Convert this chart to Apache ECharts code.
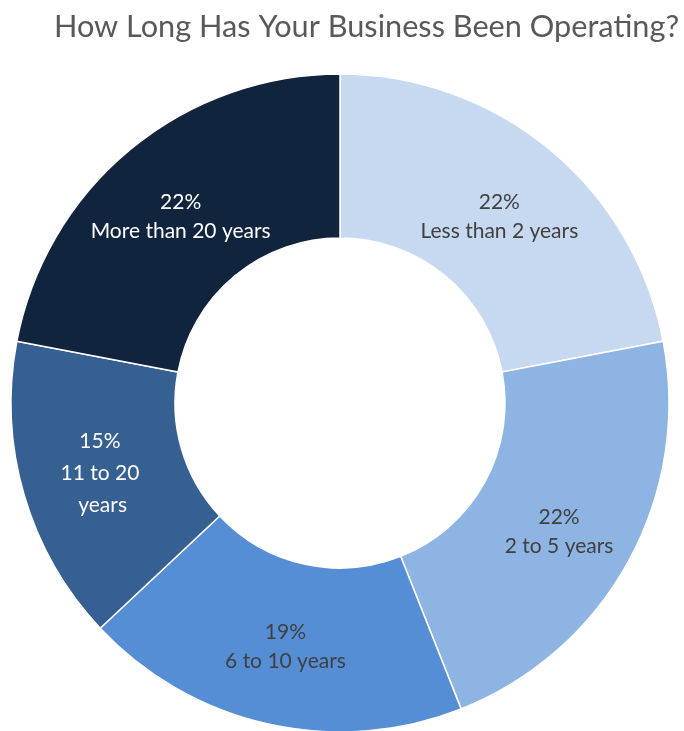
<!DOCTYPE html>
<html>
<head>
<meta charset="utf-8">
<script src="https://cdn.jsdelivr.net/npm/echarts@6/dist/echarts.min.js"></script>
<style>
  html, body { margin: 0; padding: 0; background: #ffffff; }
  #chart { width: 684px; height: 731px; }
</style>
</head>
<body>
<div id="chart"></div>
<script>
// Survey responses: how long the business has been operating
const categories = ['Less than 2 years', '2 to 5 years', '6 to 10 years', '11 to 20 years', 'More than 20 years'];
const shares = [22, 22, 19, 15, 22];

// Styling per slice
const sliceColors = ['#C6D9F1', '#8EB4E3', '#558ED5', '#376092', '#10243E'];
const labelColors = ['#404040', '#404040', '#404040', '#ffffff', '#ffffff'];
const labelStyle = [
  { offset: [0, 6] },
  { offset: [0, 8] },
  { offset: [0, 0] },
  { offset: [0, 0], width: 84, overflow: 'break', lineHeight: 32 },
  { offset: [0, 6] }
];

const FONT = 'Lato, "Open Sans", sans-serif';

const pieData = categories.map((name, i) => ({
  name,
  value: shares[i],
  itemStyle: { color: sliceColors[i] },
  label: Object.assign({ color: labelColors[i] }, labelStyle[i])
}));

const chart = echarts.init(document.getElementById('chart'), null, { renderer: 'canvas' });
chart.setOption({
  animation: false,
  title: {
    text: 'How Long Has Your Business Been Operating?',
    left: 49,
    top: 7,
    textStyle: { fontFamily: FONT, fontSize: 30.7, fontWeight: 'normal', color: '#595959' }
  },
  series: [{
    type: 'pie',
    center: [340, 403],
    radius: [165, 329],
    startAngle: 90,
    clockwise: true,
    avoidLabelOverlap: false,
    itemStyle: { borderColor: '#ffffff', borderWidth: 1.5 },
    label: {
      show: true,
      position: 'inside',
      fontFamily: FONT,
      fontSize: 21,
      lineHeight: 29,
      align: 'center',
      formatter: p => p.value + '%\n' + p.name
    },
    labelLine: { show: false },
    emphasis: { disabled: true },
    data: pieData
  }]
});
</script>
</body>
</html>
